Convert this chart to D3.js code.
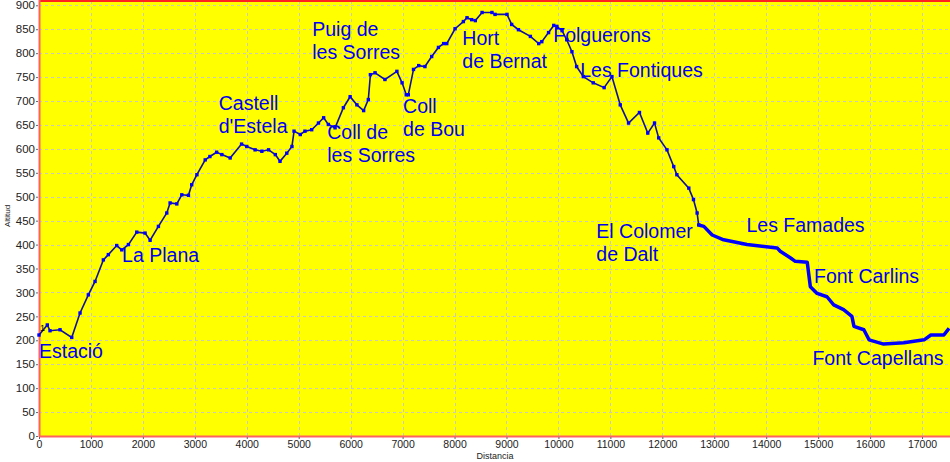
<!DOCTYPE html>
<html>
<head>
<meta charset="utf-8">
<script src="https://cdn.jsdelivr.net/npm/d3@7"></script>
<style>
  body { margin: 0; background: #fff; }
  svg { display: block; font-family: Arial, "Liberation Sans", sans-serif; }
</style>
</head>
<body>
<div id="chart"></div>
<script>
// distance (m) and altitude (m)
const distancia = [0, 160, 212, 405, 630, 790, 950, 1079, 1239, 1335, 1496, 1593, 1721, 1882, 2042, 2139,
  2299, 2460, 2524, 2653, 2749, 2877, 2940, 3040, 3200, 3290, 3420, 3520, 3680, 3900, 4000, 4160, 4290,
  4420, 4550, 4640, 4770, 4870, 4910, 5030, 5120, 5250, 5380, 5480, 5570, 5700, 5860, 5990, 6120, 6250,
  6340, 6380, 6470, 6660, 6890, 6990, 7070, 7110, 7210, 7310, 7430, 7560, 7690, 7790, 7850, 8010, 8170,
  8240, 8330, 8400, 8530, 8720, 8780, 9010, 9100, 9230, 9460, 9620, 9680, 9810, 9910, 9970, 10070, 10160,
  10260, 10350, 10480, 10670, 10880, 11030, 11190, 11350, 11560, 11720, 11850, 11930, 12090, 12220, 12280,
  12510, 12600, 12670, 12700];
const altitud = [211, 232, 220, 222, 206, 257, 295, 323, 368, 379, 398, 389, 400, 426, 424, 409,
  438, 466, 487, 485, 504, 503, 525, 546, 577, 584, 593, 588, 581, 610, 605, 598, 595,
  598, 588, 574, 591, 605, 637, 630, 637, 640, 654, 665, 651, 644, 686, 709, 692, 680,
  703, 755, 759, 745, 762, 738, 713, 713, 766, 774, 772, 793, 812, 820, 820, 851, 866,
  874, 870, 868, 885, 885, 881, 881, 860, 849, 835, 820, 824, 843, 858, 856, 847, 828,
  803, 772, 751, 738, 728, 751, 692, 654, 676, 633, 654, 623, 598, 563, 546,
  518, 494, 466, 441];

// last stretch (thicker track)
const distanciaFinal = [12700, 12800, 12960, 13180, 13630, 14210, 14270, 14470, 14560, 14790, 14850, 14980,
  15170, 15300, 15490, 15650, 15690, 15880, 15980, 16260, 16650, 17040, 17170, 17420, 17520];
const altitudFinal = [441, 438, 420, 410, 400, 393, 386, 372, 365, 363, 312, 298,
  291, 274, 264, 250, 229, 222, 201, 192, 195, 201, 211, 211, 225];

// place names: [text, distance, altitude at first baseline]
const llocs = [
  ["Estació", 0, 163],
  ["La Plana", 1600, 363],
  ["Castell|d'Estela", 3460, 682],
  ["Puig de|les Sorres", 5260, 835],
  ["Coll de|les Sorres", 5550, 620],
  ["Coll|de Bou", 7010, 675],
  ["Hort|de Bernat", 8150, 818],
  ["Folguerons", 9900, 824],
  ["Les Fontiques", 10420, 751],
  ["El Colomer|de Dalt", 10730, 414],
  ["Les Famades", 13620, 427],
  ["Font Carlins", 14920, 320],
  ["Font Capellans", 14890, 148]
];

const xTicks = d3.range(0, 17001, 1000);
const yTicks = d3.range(0, 901, 50);

const W = 950, H = 462;
const svg = d3.select("#chart").append("svg")
  .attr("width", W).attr("height", H);

const x = d3.scaleLinear().domain([0, 17500]).range([39, 948]);
const y = d3.scaleLinear().domain([0, 909]).range([436, 1]);

// plot background
svg.append("rect")
  .attr("x", 39).attr("y", 1)
  .attr("width", W - 39).attr("height", 435)
  .attr("fill", "#ffff00");

// grid
svg.append("g").selectAll("line")
  .data(yTicks.filter(d => d > 0))
  .enter().append("line")
  .attr("x1", 39).attr("x2", W)
  .attr("y1", d => Math.round(y(d)) + 0.5).attr("y2", d => Math.round(y(d)) + 0.5)
  .attr("stroke", "#c8c8c8").attr("stroke-dasharray", "3,3");
svg.append("g").selectAll("line")
  .data(xTicks.filter(d => d > 0))
  .enter().append("line")
  .attr("x1", d => Math.round(x(d)) + 0.5).attr("x2", d => Math.round(x(d)) + 0.5)
  .attr("y1", 1).attr("y2", 436)
  .attr("stroke", "#c8c8c8").attr("stroke-dasharray", "3,3");

// frame
svg.append("line").attr("x1", 39).attr("x2", W).attr("y1", 1).attr("y2", 1)
  .attr("stroke", "#ff2020").attr("stroke-width", 2);
svg.append("line").attr("x1", 39.5).attr("x2", 39.5).attr("y1", 0).attr("y2", 437)
  .attr("stroke", "#ff6060").attr("stroke-width", 2);
svg.append("line").attr("x1", 39).attr("x2", W).attr("y1", 436.5).attr("y2", 436.5)
  .attr("stroke", "#ff6060").attr("stroke-width", 2);

// axes
const yAxis = svg.append("g")
  .attr("transform", "translate(38,0)")
  .call(d3.axisLeft(y).tickValues(yTicks).tickSize(2).tickPadding(1));
const xAxis = svg.append("g")
  .attr("transform", "translate(0,437)")
  .call(d3.axisBottom(x).tickValues(xTicks).tickSize(2).tickPadding(2).tickFormat(d3.format("d")));
[yAxis, xAxis].forEach(a => {
  a.select(".domain").remove();
  a.selectAll(".tick line").attr("stroke", "#666");
  a.selectAll("text").attr("fill", "#222")
    .style("font-family", "Arial, 'Liberation Sans', sans-serif");
});
yAxis.selectAll("text").style("font-size", "11.5px");
xAxis.selectAll("text").style("font-size", "10.5px");

svg.append("text")
  .attr("x", 495).attr("y", 459)
  .attr("text-anchor", "middle")
  .style("font-size", "9px").attr("fill", "#222")
  .text("Distancia");
svg.append("text")
  .attr("transform", "translate(10,216) rotate(-90)")
  .attr("text-anchor", "middle")
  .style("font-size", "8px").attr("fill", "#222")
  .text("Altitud");

// profile
const line = d3.line().x(d => x(d[0])).y(d => y(d[1]));
const pts = distancia.map((d, i) => [d, altitud[i]]);
const ptsFinal = distanciaFinal.map((d, i) => [d, altitudFinal[i]]);

svg.append("path")
  .datum(pts)
  .attr("d", line)
  .attr("fill", "none")
  .attr("stroke", "#10109a")
  .attr("stroke-width", 1.6);

svg.append("g").selectAll("rect")
  .data(pts)
  .enter().append("rect")
  .attr("x", d => x(d[0]) - 1.7).attr("y", d => y(d[1]) - 1.7)
  .attr("width", 3.4).attr("height", 3.4)
  .attr("fill", "#0000ff");

svg.append("path")
  .datum(ptsFinal)
  .attr("d", line)
  .attr("fill", "none")
  .attr("stroke", "#0000ff")
  .attr("stroke-width", 3.5)
  .attr("stroke-linejoin", "round");

svg.append("text")
  .attr("x", 40).attr("y", 331)
  .style("font-size", "9px").attr("fill", "#000")
  .text("1");

// place names
const labels = svg.append("g")
  .style("font-size", "19.5px")
  .attr("fill", "#0000ee");
llocs.forEach(l => {
  const t = labels.append("text")
    .attr("x", x(l[1]))
    .attr("y", y(l[2]));
  l[0].split("|").forEach((s, i) => {
    t.append("tspan")
      .attr("x", x(l[1]))
      .attr("dy", i === 0 ? 0 : 23)
      .text(s);
  });
});
</script>
</body>
</html>
